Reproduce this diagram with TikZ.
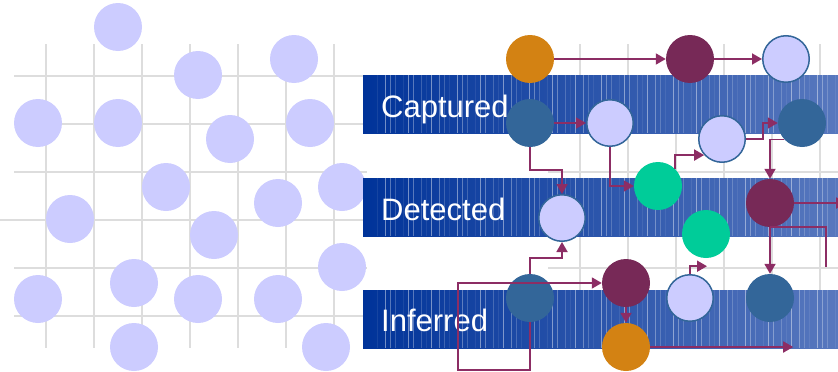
\documentclass[tikz,border=0pt]{standalone}
\usepackage{fontspec}
\setmainfont{Liberation Sans}
\usetikzlibrary{arrows.meta,calc}

\definecolor{gridgray}{RGB}{221,221,221}
\definecolor{dotblue}{RGB}{204,204,255}
\definecolor{steel}{RGB}{51,102,153}
\definecolor{amber}{RGB}{211,130,19}
\definecolor{plum}{RGB}{119,41,87}
\definecolor{mint}{RGB}{0,204,153}
\definecolor{linkc}{RGB}{140,45,100}
\definecolor{barleft}{RGB}{0,51,153}
\definecolor{barright}{RGB}{88,120,190}

\begin{document}
\begin{tikzpicture}[x=1pt,y=-1pt,
  dot/.style={circle,fill=dotblue,inner sep=0pt,minimum size=48pt},
  ev/.style={circle,inner sep=0pt,minimum size=48pt},
  lav/.style={ev,fill=dotblue,draw=steel,line width=1.5pt,minimum size=46.5pt},
  flow/.style={draw=linkc,line width=1.8pt,-{Triangle[length=10pt,width=11pt]}},
  link/.style={draw=linkc,line width=1.8pt},
  bartext/.style={white,anchor=base west,inner sep=0pt,font=\fontsize{31}{36}\selectfont}]
\useasboundingbox (0,0) rectangle (838,372);
\clip (0,0) rectangle (838,372);

% grid behind everything
\foreach \x in {46,94,...,334} \draw[gridgray,line width=2pt] (\x,44) -- (\x,348);
\foreach \y in {76,124,172,268,316} \draw[gridgray,line width=2pt] (14,\y) -- (367,\y);
\draw[gridgray,line width=2pt] (0,220) -- (367,220);
\foreach \x in {580,628,...,820} \draw[gridgray,line width=2pt] (\x,44) -- (\x,316);
\foreach \y in {76,124,...,316} \draw[gridgray,line width=2pt] (548,\y) -- (838,\y);

% loose dots
\foreach \x/\y [count=\n] in {118/27,198/75,294/59,38/123,118/123,230/139,310/123,
    166/187,70/219,278/203,342/187,214/235,342/267,134/283,38/299,198/299,
    278/299,134/347,326/347}
  \node[dot] (p\n) at (\x,\y) {};

% bars
\foreach \y in {75,178,290} {
  \shade[left color=barleft,right color=barright] (363,\y) rectangle (838,\y+58);
  \foreach \i [evaluate=\i as \op using {0.08+0.12*mod(\i*7,4)}] in {0,...,76}
    \draw[white,opacity=\op,line width=0.9pt] ({377+6*\i+mod(\i*5,3)},\y) -- ++(0,58);
}
\node[bartext] (cap) at (381,117) {Captured};
\node[bartext] (det) at (381,220.5) {Detected};
\node[bartext] (inf) at (381,331.5) {Inferred};

% events
\node[ev,fill=amber] (o1) at (530,59) {};
\node[ev,fill=plum] (m1) at (690,59) {};
\node[lav] (l1) at (786,59) {};
\node[ev,fill=steel] (b1) at (530,123) {};
\node[lav] (l2) at (610,123) {};
\node[lav] (l3) at (722,139) {};
\node[ev,fill=steel] (b2) at (802,123) {};
\node[ev,fill=mint] (g1) at (658,186) {};
\node[ev,fill=plum] (m2) at (770,203) {};
\node[lav] (l4) at (562,218) {};
\node[ev,fill=mint] (g2) at (706,234) {};
\node[ev,fill=plum] (m3) at (626,283) {};
\node[ev,fill=steel] (b3) at (530,298) {};
\node[lav] (l5) at (690,298) {};
\node[ev,fill=steel] (b4) at (770,298) {};
\node[ev,fill=amber] (o2) at (626,347) {};
\coordinate (g2in) at ($(g2.south)+(1,8)$);

% links
\draw[flow] (o1) -- (m1);
\draw[flow] (m1) -- (l1);
\draw[flow] (b1) -- (l2);
\draw[flow] (b1.south) -- ++(0,23) -| (l4.north);
\draw[flow] (l2.south) |- (g1.west);
\draw[flow] (g1.45) |- (l3.222);
\draw[flow] (l3.east) -- ++(17,0) |- (b2.west);
\draw[flow] (b2.223) -| (m2.north);
\draw[flow] (m2.east) -- ++(52,0);
\draw[flow] (m2) -- (b4);
\draw[link] (m2.south) -- ++(56,0) -- ++(0,40);
\draw[flow] (l5.north) |- (g2in);
\draw[flow] (m3) -- (o2);
\draw[flow] (o2.east) -- ++(143,0);
\draw[flow] (b3.south) -- ++(0,48) -- ++(-72,0) |- (m3.west);
\draw[flow] (b3.north) -- ++(0,-16) -| (l4.south);
\end{tikzpicture}
\end{document}
